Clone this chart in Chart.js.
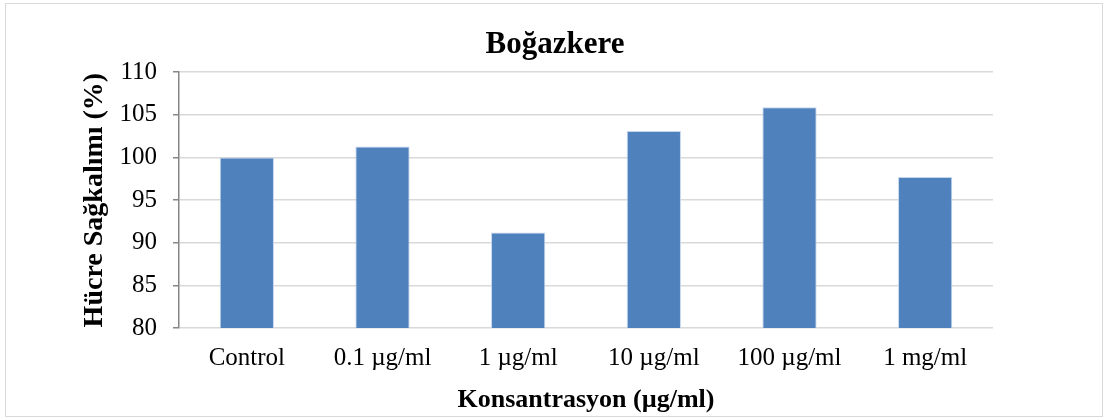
<!DOCTYPE html>
<html>
<head>
<meta charset="utf-8">
<script src="https://cdn.jsdelivr.net/npm/chart.js@4"></script>
<style>
  body { margin: 0; background: #fff; }
  #wrap { position: absolute; left: 5px; top: 3px; width: 1096px; height: 412px; border: 1px solid #d9d9d9; }
</style>
</head>
<body>
<div id="wrap"><canvas id="myChart" width="1096" height="412"></canvas></div>
<script>
var kategoriler = ["Control", "0.1 µg/ml", "1 µg/ml", "10 µg/ml", "100 µg/ml", "1 mg/ml"];
var sagkalim = [100, 101.3, 91.2, 103.1, 105.9, 97.7];
var yMin = 80, yMax = 110, yAdim = 5;

var serif = "'Times New Roman', 'Liberation Serif', serif";

var ctx = document.getElementById("myChart").getContext("2d");
var myChart = new Chart(ctx, {
  type: "bar",
  data: {
    labels: kategoriler,
    datasets: [
      {
        label: "Boğazkere",
        data: sagkalim,
        backgroundColor: "#4F81BD",
        borderColor: "rgba(190,210,235,0.9)",
        borderWidth: 1,
        barPercentage: 0.4,
        categoryPercentage: 1,
      },
    ],
  },
  options: {
    responsive: false,
    animation: false,
    // sol padding biraz büyük: başlık ortası sağa kaysın diye
    layout: { padding: { left: 111, right: 109, top: 0, bottom: 0 } },
    plugins: {
      legend: { display: false },
      tooltip: { enabled: false },
      title: {
        display: true,
        text: "Boğazkere",
        color: "#000",
        font: { family: serif, size: 31, weight: "bold" },
        padding: { top: 22, bottom: 9 },
      },
    },
    scales: {
      x: {
        grid: { display: false, drawTicks: false },
        border: { display: false },
        ticks: { color: "#000", font: { family: serif, size: 25 }, padding: 15, maxRotation: 0 },
        title: {
          display: true,
          text: "Konsantrasyon (µg/ml)",
          color: "#000",
          font: { family: serif, size: 26, weight: "bold" },
          padding: 0,
        },
        afterFit: function (s) { s.height = 88; },
      },
      y: {
        min: yMin,
        max: yMax,
        ticks: { stepSize: yAdim, color: "#000", font: { family: serif, size: 25 }, padding: 16 },
        grid: { color: "#d9d9d9", lineWidth: 1.5, tickColor: "#868686", tickLength: 6 },
        border: { color: "#868686", width: 1.5 },
        title: {
          display: true,
          text: "Hücre Sağkalımı (%)",
          color: "#000",
          font: { family: serif, size: 28, weight: "bold" },
          padding: { top: -39, bottom: 0 },
        },
        afterFit: function (s) { s.width = 62; },
      },
    },
  },
});
</script>
</body>
</html>
